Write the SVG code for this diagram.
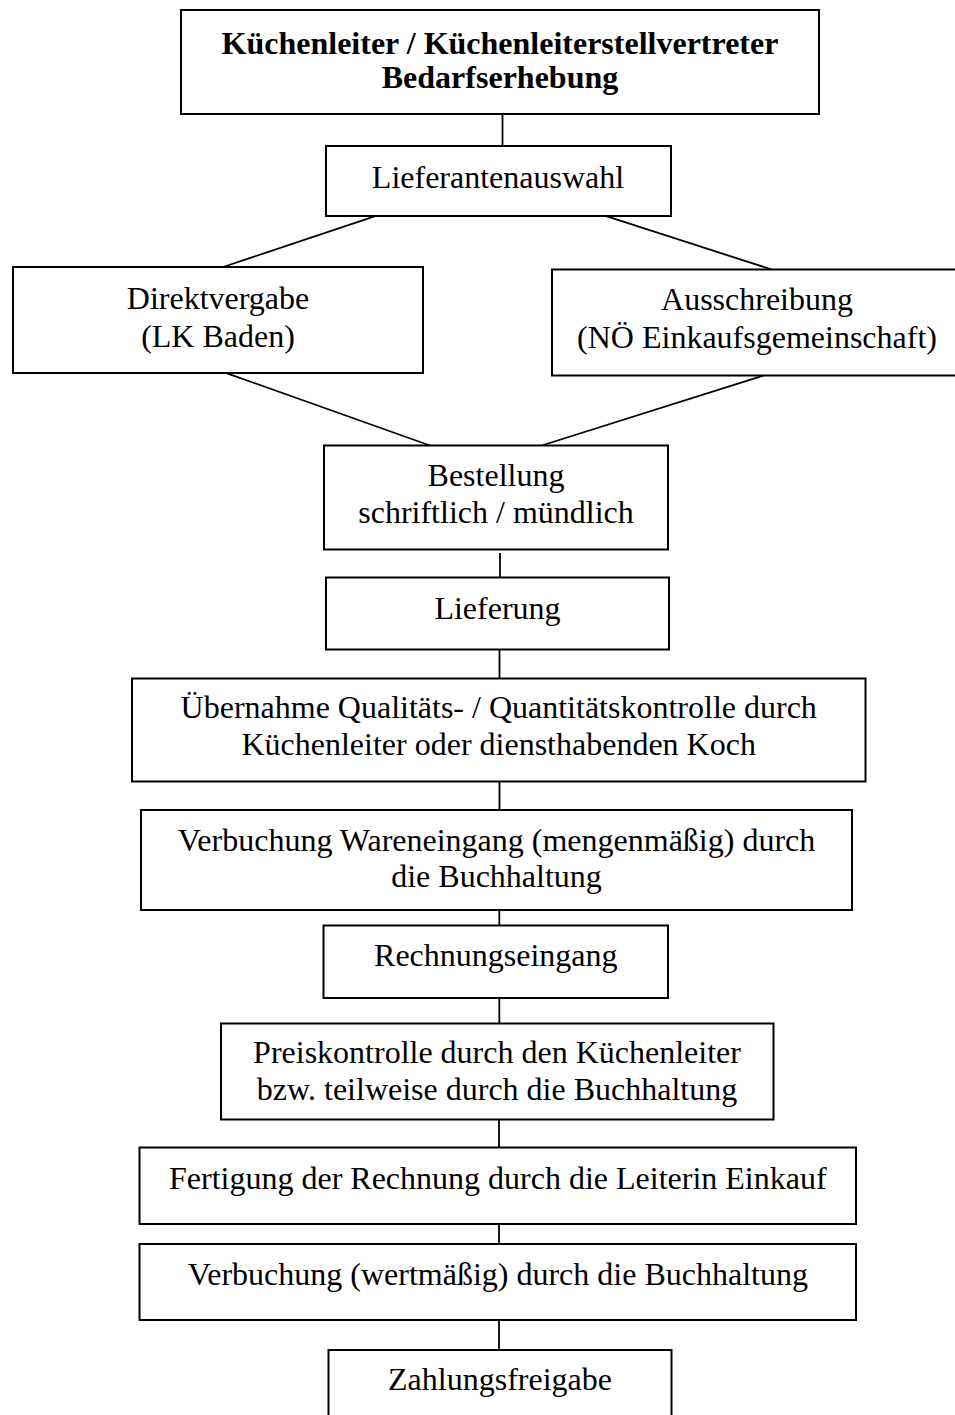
<svg xmlns="http://www.w3.org/2000/svg" width="955" height="1415" viewBox="0 0 955 1415">
<style>
.box{fill:#fff;stroke:#000;stroke-width:2}
.t{font-family:"Liberation Serif","Times New Roman",serif;font-size:32px;fill:#000;text-anchor:middle}
.b{font-weight:bold}
.c{stroke:#000;stroke-width:1.8;fill:none}
</style>
<rect width="955" height="1415" fill="#fff"/>
<g id="connectors">
<line class="c" x1="502.5" y1="114" x2="502.5" y2="146"/>
<line class="c" x1="376.7" y1="215.7" x2="223" y2="267"/>
<line class="c" x1="604.7" y1="215.7" x2="771.7" y2="269.5"/>
<line class="c" x1="227" y1="373.3" x2="430" y2="445.5"/>
<line class="c" x1="763.3" y1="375.7" x2="541.7" y2="445.5"/>
<line class="c" x1="500" y1="553" x2="500" y2="577.5"/>
<line class="c" x1="499.5" y1="649.5" x2="499.5" y2="678.5"/>
<line class="c" x1="499.5" y1="781.7" x2="499.5" y2="810"/>
<line class="c" x1="499.3" y1="910" x2="499.3" y2="925.5"/>
<line class="c" x1="499.3" y1="998" x2="499.3" y2="1023.5"/>
<line class="c" x1="499" y1="1119.5" x2="499" y2="1147.5"/>
<line class="c" x1="499" y1="1224" x2="499" y2="1244"/>
<line class="c" x1="499" y1="1320" x2="499" y2="1350"/>
</g>
<g id="n1"><rect class="box" x="181" y="10" width="638" height="104"/>
<text class="t b" x="500" y="54">Küchenleiter / Küchenleiterstellvertreter</text>
<text class="t b" x="500" y="88">Bedarfserhebung</text></g>
<g id="n2"><rect class="box" x="326" y="146" width="345" height="70"/>
<text class="t" x="498" y="188">Lieferantenauswahl</text></g>
<g id="n3"><rect class="box" x="13" y="267" width="410" height="106"/>
<text class="t" x="218" y="309">Direktvergabe</text>
<text class="t" x="218" y="346.5">(LK Baden)</text></g>
<g id="n4"><rect class="box" x="552" y="269.5" width="410" height="106"/>
<text class="t" x="757" y="310">Ausschreibung</text>
<text class="t" x="757" y="347.5">(NÖ Einkaufsgemeinschaft)</text></g>
<g id="n5"><rect class="box" x="324" y="445.5" width="344" height="104"/>
<text class="t" x="496" y="486">Bestellung</text>
<text class="t" x="496" y="523">schriftlich / mündlich</text></g>
<g id="n6"><rect class="box" x="326" y="577.5" width="343" height="72"/>
<text class="t" x="497.5" y="619">Lieferung</text></g>
<g id="n7"><rect class="box" x="132" y="678.5" width="733.5" height="103"/>
<text class="t" x="498.7" y="718">Übernahme Qualitäts- / Quantitätskontrolle durch</text>
<text class="t" x="498.7" y="755">Küchenleiter oder diensthabenden Koch</text></g>
<g id="n8"><rect class="box" x="141" y="810" width="711" height="100"/>
<text class="t" x="496.5" y="850.5">Verbuchung Wareneingang (mengenmäßig) durch</text>
<text class="t" x="496.5" y="887">die Buchhaltung</text></g>
<g id="n9"><rect class="box" x="323.5" y="925.5" width="344.5" height="72.5"/>
<text class="t" x="495.8" y="966">Rechnungseingang</text></g>
<g id="n10"><rect class="box" x="221" y="1023.5" width="552.5" height="96"/>
<text class="t" x="497" y="1063">Preiskontrolle durch den Küchenleiter</text>
<text class="t" x="497" y="1100">bzw. teilweise durch die Buchhaltung</text></g>
<g id="n11"><rect class="box" x="139.5" y="1147.5" width="716.5" height="76.5"/>
<text class="t" x="497.8" y="1189">Fertigung der Rechnung durch die Leiterin Einkauf</text></g>
<g id="n12"><rect class="box" x="139.5" y="1244" width="716.5" height="76"/>
<text class="t" x="497.8" y="1285">Verbuchung (wertmäßig) durch die Buchhaltung</text></g>
<g id="n13"><rect class="box" x="328.5" y="1350" width="343" height="80"/>
<text class="t" x="500" y="1390">Zahlungsfreigabe</text></g>
</svg>
